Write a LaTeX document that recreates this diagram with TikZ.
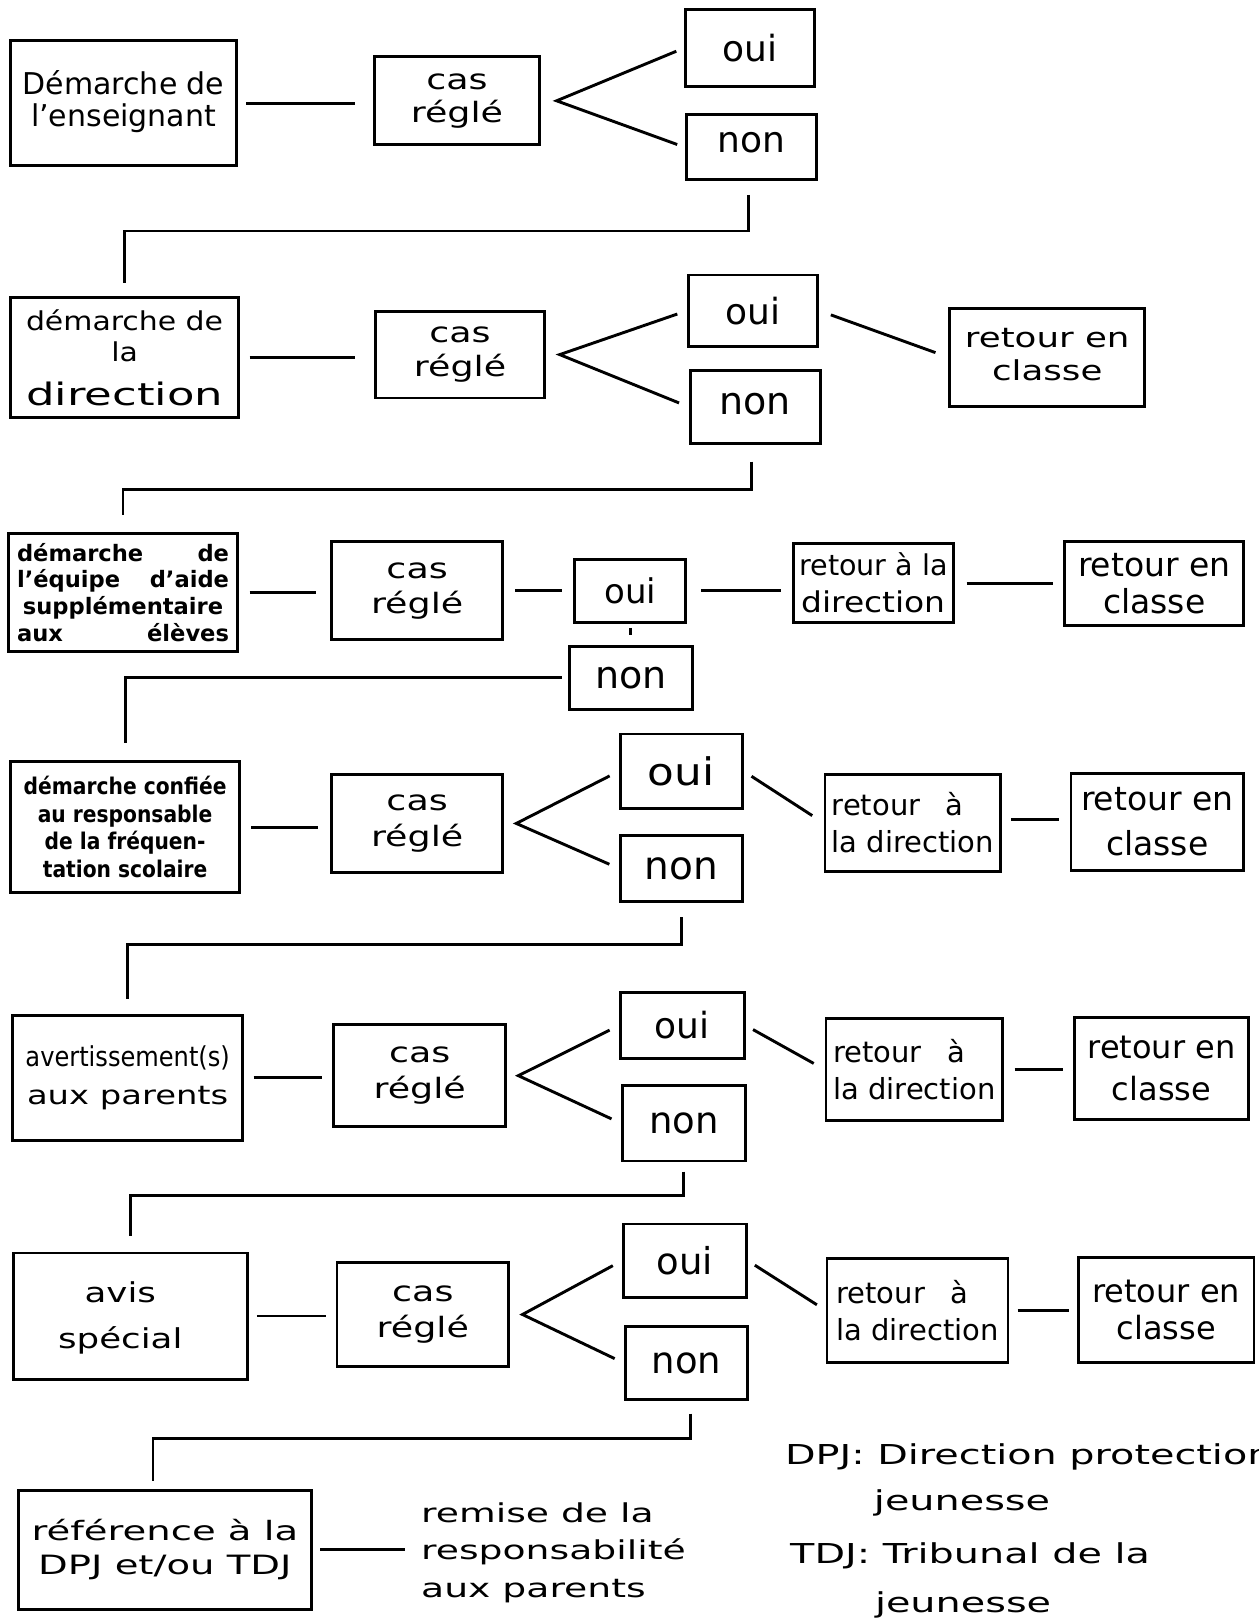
\documentclass[tikz,border=0pt]{standalone}
\usepackage{fontspec}
\setmainfont{DejaVu Sans}
\newfontfamily\fN{DejaVu Sans}
\newfontfamily\fM{DejaVu Sans}[FakeStretch=1.15]
\newfontfamily\fW{DejaVu Sans}[FakeStretch=1.3]
\newfontfamily\fX{DejaVu Sans}[FakeStretch=1.45]
\newfontfamily\fC{DejaVu Sans}[FakeStretch=0.88]
\newlength\px \setlength\px{0.51685pt}
\newcommand\mv[3]{\raisebox{#2}{\hspace*{#1}\begin{tabular}{@{}c@{}}#3\end{tabular}\hspace*{-#1}}}
\tikzset{
  bx/.style 2 args={draw, line width=1.45pt, inner sep=0pt, minimum width=#1\px, minimum height=#2\px, align=center},
  lk/.style={line width=1.45pt},
  cr/.style={font=\fW\fontsize{14}{#1}\selectfont},
  on/.style={font=\fN\fontsize{#1}{#1}\selectfont},
  rd/.style={align=left, font=\fN\fontsize{14.5}{18.4}\selectfont},
  lg/.style={anchor=base west, inner sep=0pt, font=\fX\fontsize{13.7}{13.7}\selectfont}
}
\begin{document}
\begin{tikzpicture}[x=\px, y=-\px]
\useasboundingbox (0,0) rectangle (1217,1568);
\fill[white] (0,0) rectangle (1217,1568);

% ---------- row 1
\node[bx={219}{121}, font=\fN\fontsize{15}{15}\selectfont] (A1) at (119.5,100) {\mv{0pt}{5pt}{Démarche de\\l’enseignant}};
\node[bx={160}{85}, cr=16.5] (C1) at (442,97.5) {cas\\réglé};
\node[bx={125}{74}, on=18] (O1) at (725.5,46.5) {oui};
\node[bx={126}{63}, on=18] (N1) at (727,142.5) {\raisebox{5pt}{non}};

% ---------- row 2
\node[bx={221}{116}, font=\fM\fontsize{13}{15.5}\selectfont] (A2) at (120.5,346) {démarche de\\la\\[6.5pt]{\fX\fontsize{15.5}{15.5}\selectfont direction}};
\node[bx={164}{84}, cr=17] (C2) at (445,343) {cas\\réglé};
\node[bx={125}{69}, on=18] (O2) at (728.5,300.5) {oui};
\node[bx={126}{71}, on=19] (N2) at (730.5,393.5) {\raisebox{2.5pt}{non}};
\node[bx={189}{95}, font=\fW\fontsize{13.7}{16.7}\selectfont] (R2) at (1013,345.5) {\mv{0pt}{3pt}{retour en\\classe}};

% ---------- row 3
\node[bx={222}{114}, font=\fN\bfseries\fontsize{11.3}{13.3}\selectfont] (A3) at (119,573) {\makebox[106pt][s]{démarche de}\\\makebox[106pt][s]{l’équipe d’aide}\\supplémentaire\\\makebox[106pt][s]{aux élèves}};
\node[bx={165}{95}, cr=17.5] (C3) at (403.5,571.5) {cas\\réglé};
\node[bx={107}{61}, on=17] (O3) at (609.5,571.5) {oui};
\node[bx={155}{77}, font=\fN\fontsize{14.3}{18.5}\selectfont] (D3) at (845,564) {retour à la\\{\fM direction}};
\node[bx={173}{81}, font=\fN\fontsize{16.5}{18.3}\selectfont] (R3) at (1116.5,564.5) {retour en\\classe};
\node[bx={119}{61}, on=19] (N3) at (610.5,655.5) {non};

% ---------- row 4
\node[bx={221}{127}, font=\fC\bfseries\fontsize{11.5}{13.75}\selectfont] (A4) at (121,800) {démarche confiée\\au responsable\\de la fréquen-\\tation scolaire};
\node[bx={165}{95}, cr=18] (C4) at (403.5,796.5) {cas\\réglé};
\node[bx={118}{72}, font=\fM\fontsize{19}{19}\selectfont] (O4) at (659,746) {oui};
\node[bx={118}{64}, on=19.5] (N4) at (659,840) {non};
\node[bx={170}{94}, rd] (D4) at (883,796) {\makebox[66pt][s]{retour à}\\la direction};
\node[bx={167}{94}, font=\fN\fontsize{16.5}{22.5}\selectfont] (R4) at (1119.5,795) {retour en\\classe};

% ---------- row 5
\node[bx={223}{121}, font=\fN\fontsize{13.7}{19}\selectfont] (A5) at (123.5,1042.5) {{\fC avertissement(s)}\\{\fW\fontsize{13}{19}\selectfont aux parents}};
\node[bx={166}{99}, cr=18] (C5) at (406,1040.5) {cas\\réglé};
\node[bx={120}{64}, on=18] (O5) at (660,992) {oui};
\node[bx={119}{73}, on=18.5] (N5) at (661.5,1086.5) {non};
\node[bx={171}{99}, rd] (D5) at (884.5,1034.5) {\makebox[66pt][s]{retour à}\\la direction};
\node[bx={169}{99}, font=\fN\fontsize{16}{20.8}\selectfont] (R5) at (1123.5,1033.5) {retour en\\classe};

% ---------- row 6
\node[bx={226}{122}, font=\fW\fontsize{13.7}{23.3}\selectfont] (A6) at (126,1273) {\mv{-5pt}{0pt}{avis\\spécial}};
\node[bx={166}{101}, cr=18.4] (C6) at (409,1271.5) {cas\\réglé};
\node[bx={119}{71}, on=18.5] (O6) at (662.5,1219.5) {oui};
\node[bx={118}{71}, on=18.5] (N6) at (664,1318.5) {non};
\node[bx={175}{101}, rd] (D6) at (887.5,1267.5) {\makebox[66pt][s]{retour à}\\la direction};
\node[bx={170}{102}, font=\fN\fontsize{16}{18.5}\selectfont] (R6) at (1128,1267) {retour en\\classe};

% ---------- row 7
\node[bx={284}{115}, font=\fX\fontsize{13.3}{16.8}\selectfont] (A7) at (159.5,1499) {référence à la\\DPJ et/ou TDJ};
\node[anchor=west, align=left, inner sep=0pt, font=\fX\fontsize{13}{18.9}\selectfont] (REM) at (407,1502) {remise de la\\responsabilité\\aux parents};

% ---------- legend
\node[lg] (L1) at (759,1417) {DPJ: Direction protection};
\node[lg] (L2) at (845,1461) {jeunesse};
\node[lg] (L3) at (764,1512) {TDJ: Tribunal de la};
\node[lg] (L4) at (846,1560) {jeunesse};

% ---------- connectors row 1
\draw[lk, shorten <=8\px, shorten >=17\px] (A1.east) -- (A1.east -| C1.west);
\draw[lk, shorten <=8\px, shorten >=8\px] (O1.west) -- ([xshift=15\px]C1.east) -- (N1.west);
\draw[lk, shorten <=13\px, shorten >=13\px] ([xshift=-3\px]N1.south) -- ++(0,48) -| (A2.north);

% row 2
\draw[lk, shorten <=9\px, shorten >=18\px] (A2.east) -- (A2.east -| C2.west);
\draw[lk, shorten <=10\px, shorten >=10\px] (O2.west) -- ([xshift=13\px]C2.east) -- (N2.west);
\draw[lk, shorten <=12\px, shorten >=13\px] (O2.east) -- (R2.west);
\draw[lk, shorten <=16\px, shorten >=16\px] ([xshift=-4\px]N2.south) -- ++(0,43) -| (A3.north);

% row 3
\draw[lk, shorten <=10\px, shorten >=14\px] (A3.east) -- (A3.east -| C3.west);
\draw[lk, shorten <=11\px, shorten >=11\px] (C3.east) -- (C3.east -| O3.west);
\draw[lk, shorten <=14\px, shorten >=11\px] (O3.east) -- (O3.east -| D3.west);
\draw[lk, shorten <=11\px, shorten >=10\px] (D3.east) -- (D3.east -| R3.west);
\draw[lk, shorten <=4\px, shorten >=9\px] (O3.south) -- (O3.south |- N3.north);
\draw[lk, shorten <=6\px, shorten >=16\px] (N3.west) -| (A4.north);

% row 4
\draw[lk, shorten <=10\px, shorten >=12\px] (A4.east) -- (A4.east -| C4.west);
\draw[lk, shorten <=10\px, shorten >=10\px] (O4.west) -- ([xshift=12\px]C4.east) -- (N4.west);
\draw[lk, shorten <=9\px, shorten >=13\px] (O4.east) -- (D4.west);
\draw[lk, shorten <=9\px, shorten >=10\px] ([yshift=3\px]D4.east) -- ([yshift=3\px]D4.east -| R4.west);
\draw[lk, shorten <=14\px, shorten >=14\px] (N4.south) -- ++(0,40) -| (A5.north);

% row 5
\draw[lk, shorten <=9\px, shorten >=10\px] (A5.east) -- (A5.east -| C5.west);
\draw[lk, shorten <=10\px, shorten >=10\px] (O5.west) -- ([xshift=11\px]C5.east) -- (N5.west);
\draw[lk, shorten <=8\px, shorten >=12\px] (O5.east) -- (D5.west);
\draw[lk, shorten <=10\px, shorten >=9\px] (D5.east) -- (D5.east -| R5.west);
\draw[lk, shorten <=9\px, shorten >=15\px] (N5.south) -- ++(0,32) -| (A6.north);

% row 6
\draw[lk, shorten <=8\px, shorten >=9\px] (A6.east) -- (A6.east -| C6.west);
\draw[lk, shorten <=10\px, shorten >=10\px] (O6.west) -- ([xshift=12\px]C6.east) -- (N6.west);
\draw[lk, shorten <=8\px, shorten >=10\px] (O6.east) -- (D6.west);
\draw[lk, shorten <=8\px, shorten >=8\px] (D6.east) -- (D6.east -| R6.west);
\draw[lk, shorten <=12\px, shorten >=8\px] ([xshift=4\px]N6.south) -- ++(0,36) -| ([xshift=-11.5\px]A7.north);

% row 7
\draw[lk, shorten <=7\px, shorten >=15\px] (A7.east) -- (A7.east -| REM.west);
\end{tikzpicture}
\end{document}
